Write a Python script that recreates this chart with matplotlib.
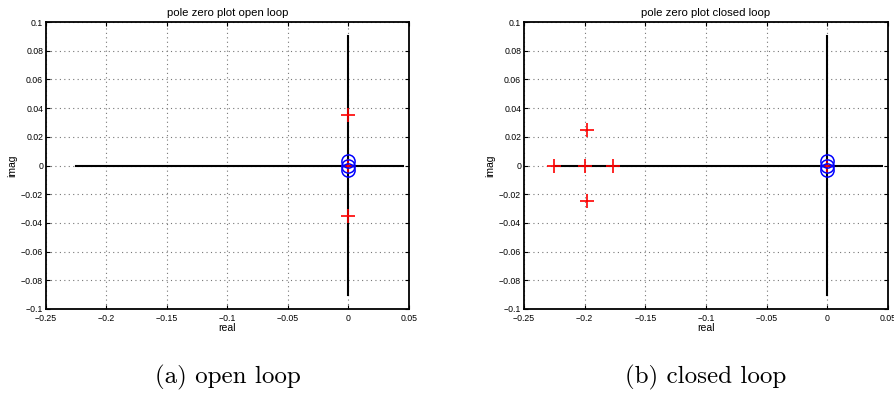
import matplotlib
matplotlib.use('Agg')
import matplotlib.pyplot as plt

# Data ------------------------------------------------------------------------

titles = ['pole zero plot open loop', 'pole zero plot closed loop']
captions = ['(a) open loop', '(b) closed loop']

# open loop poles / zeros
ol_pole_re = [0, 0, 0]
ol_pole_im = [0.0355, -0.0355, 0]
ol_zero_re = [0, 0, 0]
ol_zero_im = [0.003, 0, -0.003]

# closed loop poles / zeros
cl_pole_re = [-0.225, -0.2, -0.177, -0.198, -0.198, 0]
cl_pole_im = [0, 0, 0, 0.0245, -0.0245, 0]
cl_zero_re = [0, 0, 0]
cl_zero_im = [0.003, 0, -0.003]

# real / imag axis lines
axis_re = [-0.225, 0.045]
axis_im = [-0.09, 0.09]

xticks = [-0.25, -0.2, -0.15, -0.1, -0.05, 0, 0.05]
xticklabels = ['\u22120.25', '\u22120.2', '\u22120.15', '\u22120.1', '\u22120.05', '0', '0.05']
yticks = [-0.1, -0.08, -0.06, -0.04, -0.02, 0, 0.02, 0.04, 0.06, 0.08, 0.1]
yticklabels = ['\u22120.1', '\u22120.08', '\u22120.06', '\u22120.04', '\u22120.02', '0',
               '0.02', '0.04', '0.06', '0.08', '0.1']

# Plot ------------------------------------------------------------------------

plt.rcParams['font.family'] = ['Liberation Sans', 'DejaVu Sans']

fig = plt.figure(figsize=(8.95, 3.94), dpi=100)

W, H = 895, 394
boxes = [(46, 22, 409, 309), (524, 22, 888, 309)]
data = [(ol_pole_re, ol_pole_im, ol_zero_re, ol_zero_im),
        (cl_pole_re, cl_pole_im, cl_zero_re, cl_zero_im)]

for i in range(2):
    x0, y0, x1, y1 = boxes[i]
    ax = fig.add_axes([x0 / W, 1 - y1 / H, (x1 - x0) / W, (y1 - y0) / H])
    pr, pi, zr, zi = data[i]

    ax.plot(axis_re, [0, 0], color='black', lw=1.5, zorder=2)
    ax.plot([0, 0], axis_im, color='black', lw=1.5, zorder=2)
    ax.plot(pr, pi, linestyle='none', marker='+', color='red',
            markersize=9.5, markeredgewidth=1.2, zorder=3)
    ax.plot(zr, zi, linestyle='none', marker='o', color='blue',
            markerfacecolor='none', markersize=9.5, markeredgewidth=1.1, zorder=4)

    ax.set_xlim(-0.25, 0.05)
    ax.set_ylim(-0.1, 0.1)
    ax.set_xticks(xticks)
    ax.set_xticklabels(xticklabels)
    ax.set_yticks(yticks)
    ax.set_yticklabels(yticklabels)
    ax.tick_params(direction='in', top=True, right=True, labelsize=6.3,
                   length=3, width=0.8)
    ax.tick_params(axis='x', pad=3.5)
    ax.tick_params(axis='y', pad=2)
    ax.grid(True, linestyle=(0, (1, 3)), color='#777777', linewidth=0.8)
    for s in ax.spines.values():
        s.set_linewidth(1.3)

    ax.set_title(titles[i], fontsize=8.2, pad=4)
    ax.set_xlabel('real', fontsize=7.5, labelpad=0)
    ax.set_ylabel('imag', fontsize=7.5, labelpad=3)

    fig.text((x0 + x1) / 2 / W, 1 - 377 / H, captions[i], family='cmr10',
             fontsize=18, ha='center', va='center')

fig.savefig('out.png', dpi=100)
